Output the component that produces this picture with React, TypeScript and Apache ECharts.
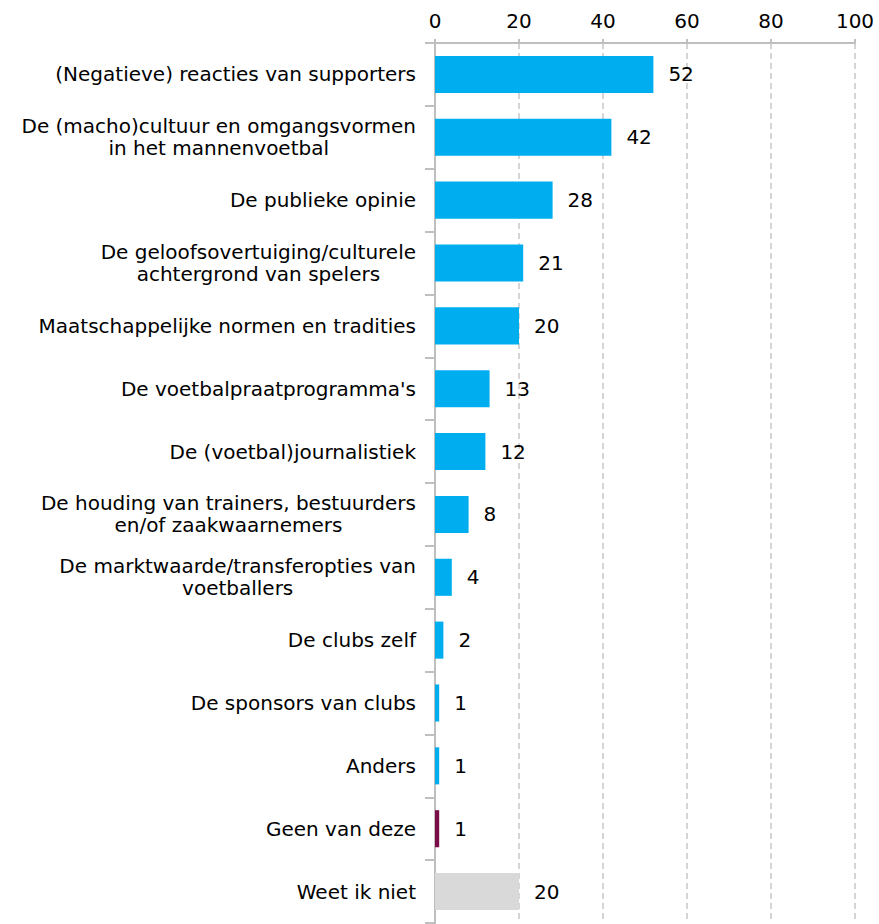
import React, { useEffect, useRef } from "react";
import * as echarts from "echarts";

const categories = [
  "(Negatieve) reacties van supporters",
  "De (macho)cultuur en omgangsvormen\nin het mannenvoetbal",
  "De publieke opinie",
  "De geloofsovertuiging/culturele\nachtergrond van spelers",
  "Maatschappelijke normen en tradities",
  "De voetbalpraatprogramma's",
  "De (voetbal)journalistiek",
  "De houding van trainers, bestuurders\nen/of zaakwaarnemers",
  "De marktwaarde/transferopties van\nvoetballers",
  "De clubs zelf",
  "De sponsors van clubs",
  "Anders",
  "Geen van deze",
  "Weet ik niet",
];
const values = [52, 42, 28, 21, 20, 13, 12, 8, 4, 2, 1, 1, 1, 20];
const barColors = [
  "#00AEEF", "#00AEEF", "#00AEEF", "#00AEEF", "#00AEEF", "#00AEEF", "#00AEEF",
  "#00AEEF", "#00AEEF", "#00AEEF", "#00AEEF", "#00AEEF", "#7A0D45", "#D9D9D9",
];
const xTicks = [0, 20, 40, 60, 80, 100];

const FONT = "DejaVu Sans";
const FS = 20;

export default function App() {
  const ref = useRef<HTMLDivElement>(null);
  useEffect(() => {
    if (!ref.current) return;
    const chart = echarts.init(ref.current, undefined, { renderer: "svg" });
    chart.setOption({
      animation: false,
      grid: { left: 435, right: 24, top: 43, bottom: 1, containLabel: false },
      xAxis: {
        type: "value",
        position: "top",
        min: xTicks[0],
        max: xTicks[xTicks.length - 1],
        interval: 20,
        axisLine: { show: true, lineStyle: { color: "#BFBFBF", width: 2 } },
        axisTick: { show: true, inside: false, length: 4, lineStyle: { color: "#BFBFBF", width: 2 } },
        axisLabel: { color: "#000", fontSize: FS, fontFamily: FONT, margin: 12 },
        splitLine: { show: true, lineStyle: { color: "#C8C8C8", type: [6, 4], width: 1.5 } },
      },
      yAxis: {
        type: "category",
        inverse: true,
        data: categories,
        axisLine: { show: true, lineStyle: { color: "#BFBFBF", width: 2 } },
        axisTick: { show: true, length: 10, alignWithLabel: false, lineStyle: { color: "#BFBFBF", width: 2 } },
        axisLabel: {
          margin: 19,
          color: "#000",
          fontSize: FS,
          fontFamily: FONT,
          lineHeight: 22,
          formatter: (v: string) =>
            v.split("\n").map((l) => `{c|${l}}`).join("\n"),
          rich: { c: { align: "center", fontSize: FS, fontFamily: FONT, color: "#000", lineHeight: 22 } },
        },
      },
      series: [
        {
          type: "bar",
          data: values.map((v, i) => ({ value: v, itemStyle: { color: barColors[i] } })),
          barCategoryGap: "41%",
          label: {
            show: true,
            position: "right",
            distance: 15,
            color: "#000",
            fontSize: FS,
            fontFamily: FONT,
          },
        },
      ],
    });
    return () => chart.dispose();
  }, []);
  return (
    <div
      ref={ref}
      style={{ position: "absolute", left: 0, top: 0, width: 879, height: 924 }}
    />
  );
}
